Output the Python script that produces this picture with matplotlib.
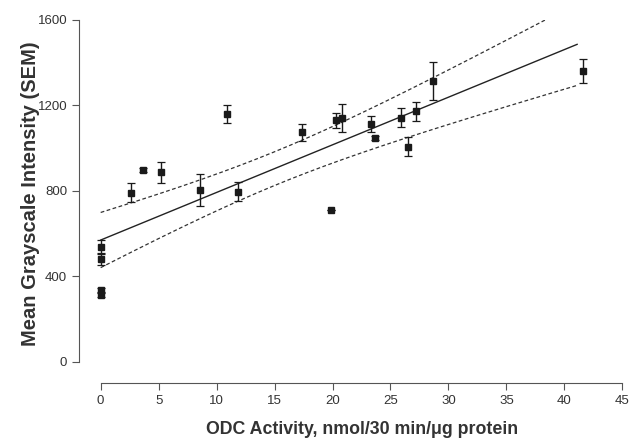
import numpy as np
import matplotlib
matplotlib.use("Agg")
import matplotlib.pyplot as plt

# ODC activity (x) vs mean grayscale intensity (y) with SEM
odc = [0, 0, 0, 0, 2.59, 3.62, 5.2, 8.6, 10.87, 11.87, 17.4, 19.87,
       20.3, 20.8, 23.35, 23.7, 25.9, 26.5, 27.2, 28.65, 41.58]
intensity = [538, 479, 335, 312, 791, 897, 886, 803, 1159, 795, 1073, 708,
             1129, 1139, 1112, 1048, 1141, 1006, 1171, 1313, 1360]
sem = [30, 25, 8, 8, 44, 10, 48, 76, 41, 45, 39, 0,
       35, 65, 38, 10, 44, 43, 46, 88, 56]

# regression line
fit_intercept = 569
fit_slope = 22.28
fit_range = [0, 41.1]

x_ticks = [0, 5, 10, 15, 20, 25, 30, 35, 40, 45]
y_ticks = [0, 400, 800, 1200, 1600]

plt.rcParams['font.family'] = ['Liberation Sans', 'DejaVu Sans']

x = np.array(odc, dtype=float)
y = np.array(intensity, dtype=float)
n = len(x)
resid = y - (fit_intercept + fit_slope * x)
s = np.sqrt(np.sum(resid ** 2) / (n - 2))
sxx = np.sum((x - x.mean()) ** 2)
t95 = 2.093  # t(0.975, df=19)

xf = np.linspace(fit_range[0], fit_range[1], 200)
yf = fit_intercept + fit_slope * xf
half = t95 * s * np.sqrt(1 / n + (xf - x.mean()) ** 2 / sxx)

fig = plt.figure(figsize=(6.32, 4.40), dpi=100)
ax = fig.add_axes([0.125, 0.1295, 0.8597, 0.8257])

ax.plot(xf, yf, color='#222222', lw=1.0)
ax.plot(xf, yf + half, color='#333333', lw=0.9, ls=(0, (3, 2)))
ax.plot(xf, yf - half, color='#333333', lw=0.9, ls=(0, (3, 2)))
ax.errorbar(x, y, yerr=sem, fmt='s', color='#1a1a1a', ms=3.8,
            elinewidth=1.0, capsize=3, capthick=0.9, zorder=3)

ax.set_xlim(-1.87, 45)
ax.set_ylim(-100, 1600)
ax.set_xticks(x_ticks)
ax.set_yticks(y_ticks)
for side in ['top', 'right']:
    ax.spines[side].set_visible(False)
ax.spines['left'].set_bounds(0, 1600)
ax.spines['bottom'].set_bounds(0, 45)
for side in ['left', 'bottom']:
    ax.spines[side].set_color('#555555')
    ax.spines[side].set_linewidth(0.8)
ax.tick_params(colors='#555555', labelcolor='#333333', length=5, width=0.8,
               labelsize=9.5)

ax.set_xlabel('ODC Activity, nmol/30 min/μg protein', fontsize=12.8,
              fontweight='bold', color='#333333')
ax.set_ylabel('Mean Grayscale Intensity (SEM)', fontsize=14.5,
              fontweight='bold', color='#333333')
ax.xaxis.set_label_coords(0.521, -0.105)
ax.yaxis.set_label_coords(-0.072, 0.52)

fig.savefig('out.png', dpi=100)
